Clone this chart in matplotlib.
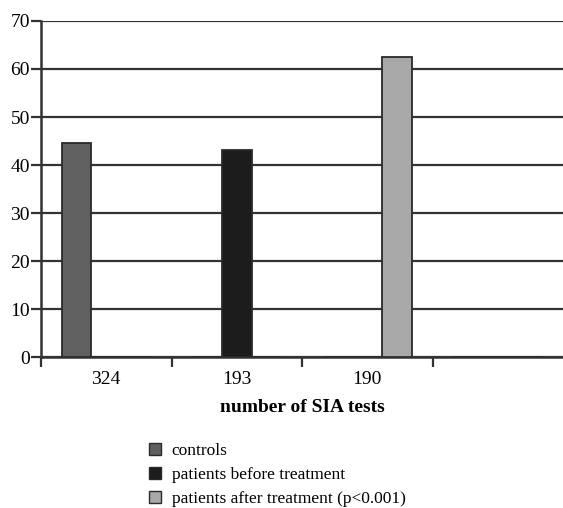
import matplotlib.pyplot as plt
from matplotlib.patches import Patch
import numpy as np

categories = ["324", "193", "190", ""]
series = ["controls", "patients before treatment", "patients after treatment (p<0.001)"]
controls = [44.6, 0, 0, 0]
before = [0, 43.2, 0, 0]
after = [0, 0, 62.5, 0]
colors = ["#606060", "#1c1c1c", "#a8a8a8"]

plt.rcParams["font.family"] = ["Liberation Serif", "DejaVu Serif"]

fig = plt.figure(figsize=(5.63, 5.08), dpi=100)
ax = fig.add_axes([41 / 563, 1 - 357 / 508, 1 - 41 / 563, (357 - 21) / 508])

x = np.arange(len(categories))
w = 0.227
for i, (vals, col) in enumerate(zip([controls, before, after], colors)):
    ax.bar(x + (i - 1) * w, vals, width=w, color=col, edgecolor="#2a2a2a",
           linewidth=1.3, zorder=3)

ax.set_xlim(-0.5, 3.5)
ax.set_ylim(0, 70)
ax.set_yticks(range(0, 71, 10))
ax.grid(axis="y", color="#333333", linewidth=1.6, zorder=1)

# category boundaries carry the tick marks, labels sit in the middle
ax.set_xticks([-0.5, 0.5, 1.5, 2.5])
ax.set_xticklabels([])
ax.set_xticks(x[:3], categories[:3], minor=True)
ax.tick_params(axis="x", which="minor", length=0, labelsize=14, pad=10)
ax.tick_params(axis="x", which="major", length=7, width=1.6, color="#333333")
ax.tick_params(axis="y", length=7, width=1.6, color="#333333", labelsize=14, pad=1)

for s in ["top", "right"]:
    ax.spines[s].set_visible(False)
for s in ["left", "bottom"]:
    ax.spines[s].set_color("#333333")
    ax.spines[s].set_linewidth(1.8)

ax.set_xlabel("number of SIA tests", fontsize=14, fontweight="bold", labelpad=8)

handles = [Patch(facecolor=c, edgecolor="#2a2a2a", linewidth=1) for c in colors]
fig.legend(handles, series, loc="upper left", bbox_to_anchor=(142 / 563, 1 - 436 / 508),
           frameon=False, fontsize=12.5, handlelength=0.7, handleheight=0.7,
           handletextpad=0.6, labelspacing=0.45, borderaxespad=0)

fig.savefig("out.png", dpi=100)
